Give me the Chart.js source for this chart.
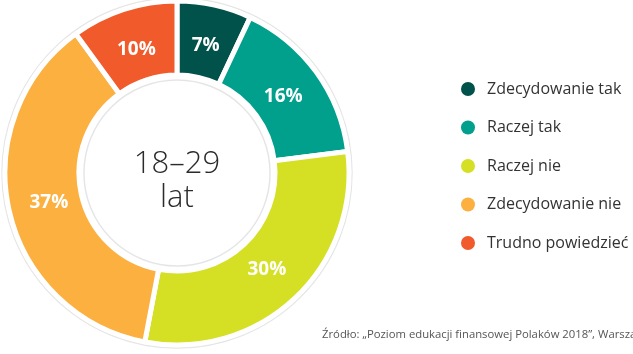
<!DOCTYPE html>
<html lang="pl">
<head>
<meta charset="utf-8">
<script src="https://cdn.jsdelivr.net/npm/chart.js@4"></script>
<style>
  html, body { margin: 0; padding: 0; background: #fff; }
  .wrap { position: relative; width: 633px; height: 354px; }
</style>
</head>
<body>
<div class="wrap"><canvas id="ageChart"></canvas></div>
<script>
const answers = ["Zdecydowanie tak", "Raczej tak", "Raczej nie", "Zdecydowanie nie", "Trudno powiedzieć"];
const shares = [7, 16, 30, 37, 10];
const sliceColors = ["#00524a", "#00a08d", "#d5df24", "#fbb040", "#f15a2b"];
const centerLines = ["18–29", "lat"];
const sourceNote = "Źródło: „Poziom edukacji finansowej Polaków 2018”, Warszawa";

// percentages written inside each slice, a bit inside the middle of the ring
const sliceLabels = {
  id: "sliceLabels",
  afterDatasetsDraw(chart) {
    const ctx = chart.ctx;
    const meta = chart.getDatasetMeta(0);
    ctx.save();
    ctx.fillStyle = "#fff";
    ctx.font = "bold 19px 'Open Sans', sans-serif";
    ctx.textAlign = "center";
    ctx.textBaseline = "middle";
    meta.data.forEach(function (arc, i) {
      const mid = (arc.startAngle + arc.endAngle) / 2;
      const r = arc.innerRadius + (arc.outerRadius - arc.innerRadius) * 0.45;
      ctx.fillText(shares[i] + "%", arc.x + r * Math.cos(mid), arc.y + r * Math.sin(mid) + 1);
    });
    ctx.restore();
  }
};

// faint rings around the donut, age group in the hole, legend and source line
const decorations = {
  id: "decorations",
  beforeDatasetsDraw(chart) {
    const ctx = chart.ctx;
    const arc = chart.getDatasetMeta(0).data[0];
    ctx.save();
    ctx.strokeStyle = "rgba(0,0,0,0.10)";
    ctx.lineWidth = 1.5;
    ctx.beginPath();
    ctx.arc(arc.x, arc.y, arc.outerRadius + 3, 0, Math.PI * 2);
    ctx.stroke();
    ctx.beginPath();
    ctx.arc(arc.x, arc.y, arc.innerRadius - 5, 0, Math.PI * 2);
    ctx.stroke();
    ctx.restore();
  },
  afterDraw(chart) {
    const ctx = chart.ctx;
    const arc = chart.getDatasetMeta(0).data[0];
    ctx.save();

    ctx.fillStyle = "#2b2b2b";
    ctx.font = "300 31px 'Open Sans', sans-serif";
    ctx.textAlign = "center";
    ctx.textBaseline = "middle";
    ctx.fillText(centerLines[0], arc.x, arc.y - 9);
    ctx.fillText(centerLines[1], arc.x, arc.y + 25);

    ctx.textAlign = "left";
    ctx.font = "16px 'Open Sans', sans-serif";
    answers.forEach(function (label, i) {
      const y = 89 + i * 38.5;
      ctx.fillStyle = sliceColors[i];
      ctx.beginPath();
      ctx.arc(468, y, 7, 0, Math.PI * 2);
      ctx.fill();
      ctx.fillStyle = "#333";
      ctx.fillText(label, 487, y);
    });

    ctx.fillStyle = "#555";
    ctx.font = "11.3px 'Open Sans', sans-serif";
    ctx.fillText(sourceNote, 322, 335);
    ctx.restore();
  }
};

new Chart(document.getElementById("ageChart"), {
  type: "doughnut",
  data: {
    labels: answers,
    datasets: [{
      data: shares,
      backgroundColor: sliceColors,
      borderColor: "#fff",
      borderWidth: 5
    }]
  },
  options: {
    responsive: true,
    maintainAspectRatio: false,
    animation: false,
    radius: 172,
    cutout: "57%",
    layout: { padding: { left: 5, top: 1, right: 284, bottom: 9 } },
    plugins: {
      legend: { display: false },
      tooltip: { enabled: false }
    }
  },
  plugins: [sliceLabels, decorations]
});
</script>
</body>
</html>
